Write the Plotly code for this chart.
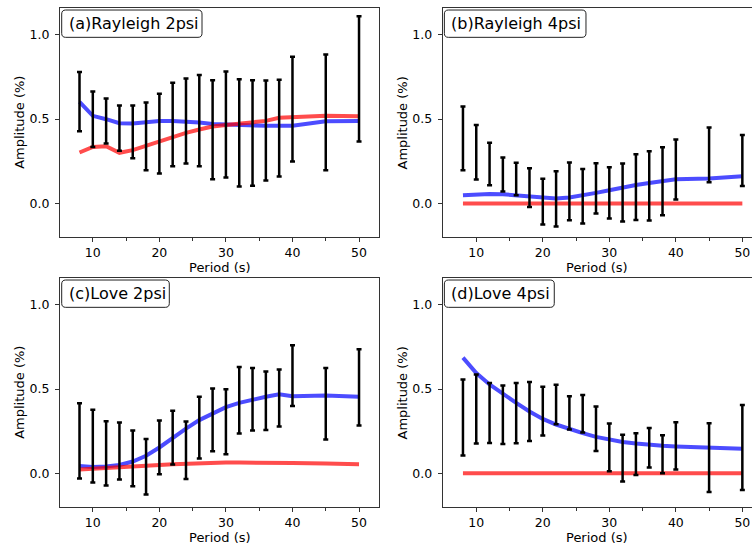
import numpy as np
import plotly.graph_objects as go

# ---------------- data ----------------
periods = [8, 10, 12, 14, 16, 18, 20, 22, 24, 26, 28, 30, 32, 34, 36, 38, 40, 45, 50]

titles = ["(a)Rayleigh 2psi", "(b)Rayleigh 4psi", "(c)Love 2psi", "(d)Love 4psi"]

# error bar upper / lower limits (observed amplitude ranges)
a_hi = [0.779, 0.663, 0.621, 0.580, 0.580, 0.598, 0.649, 0.714, 0.740, 0.761, 0.730, 0.781, 0.736, 0.730, 0.728, 0.732, 0.868, 0.882, 1.108]
a_lo = [0.428, 0.335, 0.355, 0.312, 0.268, 0.197, 0.178, 0.221, 0.237, 0.221, 0.144, 0.154, 0.101, 0.105, 0.136, 0.160, 0.249, 0.197, 0.367]
b_hi = [0.574, 0.465, 0.359, 0.272, 0.241, 0.209, 0.146, 0.191, 0.243, 0.205, 0.239, 0.215, 0.237, 0.292, 0.310, 0.333, 0.379, 0.450, 0.406]
b_lo = [0.197, 0.142, 0.108, 0.071, 0.049, -0.020, -0.124, -0.136, -0.099, -0.118, -0.059, -0.089, -0.107, -0.097, -0.101, -0.069, 0.024, 0.126, 0.103]
c_hi = [0.416, 0.377, 0.310, 0.302, 0.254, 0.205, 0.314, 0.371, 0.308, 0.454, 0.503, 0.499, 0.631, 0.625, 0.604, 0.615, 0.759, 0.625, 0.736]
c_lo = [-0.030, -0.053, -0.071, -0.036, -0.075, -0.124, -0.004, 0.053, -0.032, 0.089, 0.132, 0.114, 0.237, 0.254, 0.258, 0.278, 0.400, 0.201, 0.284]
d_hi = [0.556, 0.586, 0.536, 0.521, 0.536, 0.542, 0.513, 0.525, 0.458, 0.465, 0.396, 0.296, 0.229, 0.239, 0.270, 0.227, 0.304, 0.298, 0.406]
d_lo = [0.107, 0.178, 0.181, 0.174, 0.179, 0.193, 0.225, 0.292, 0.260, 0.243, 0.134, 0.014, -0.047, -0.008, 0.036, 0.002, 0.024, -0.110, -0.097]

# blue model curves
a_blue = [0.602, 0.519, 0.499, 0.475, 0.473, 0.481, 0.489, 0.489, 0.485, 0.479, 0.471, 0.467, 0.463, 0.462, 0.460, 0.460, 0.460, 0.487, 0.489]
b_blue = [0.049, 0.055, 0.057, 0.055, 0.049, 0.039, 0.032, 0.030, 0.036, 0.047, 0.063, 0.079, 0.097, 0.110, 0.122, 0.134, 0.144, 0.148, 0.162]
c_blue = [0.045, 0.039, 0.041, 0.051, 0.071, 0.105, 0.154, 0.211, 0.266, 0.316, 0.357, 0.393, 0.418, 0.438, 0.454, 0.469, 0.458, 0.462, 0.454]
d_blue = [0.686, 0.595, 0.527, 0.469, 0.418, 0.367, 0.323, 0.290, 0.262, 0.239, 0.217, 0.199, 0.187, 0.178, 0.170, 0.164, 0.160, 0.152, 0.146]

# red model curves
a_red = [0.302, 0.335, 0.339, 0.300, 0.316, 0.343, 0.369, 0.394, 0.418, 0.438, 0.456, 0.465, 0.473, 0.481, 0.489, 0.507, 0.511, 0.519, 0.517]
b_red = [0.0] * 19
c_red = [0.024, 0.026, 0.032, 0.037, 0.043, 0.047, 0.051, 0.055, 0.059, 0.061, 0.063, 0.065, 0.065, 0.065, 0.065, 0.063, 0.063, 0.059, 0.055]
d_red = [0.002] * 19

y_ticks = [0.0, 0.5, 1.0]
x_ticks = [10, 20, 30, 40, 50]

panels = [
    (a_hi, a_lo, a_blue, a_red),
    (b_hi, b_lo, b_blue, b_red),
    (c_hi, c_lo, c_blue, c_red),
    (d_hi, d_lo, d_blue, d_red),
]

# ---------------- layout geometry ----------------
W, H = 752, 548
left_dom = [60 / W, 379 / W]
right_dom = [442.67 / W, 1.0]
top_dom = [(H - 237.33) / H, (H - 8.33) / H]
bot_dom = [(H - 507.33) / H, (H - 278.33) / H]
x_ranges = [[5.07, 53.0], [4.95, 51.45], [5.07, 53.0], [4.95, 51.45]]
doms = [(left_dom, top_dom), (right_dom, top_dom), (left_dom, bot_dom), (right_dom, bot_dom)]
box_w = [140.3, 141.6, 107.6, 109.9]

fig = go.Figure()
FONT = "DejaVu Sans"
spine = "#333333"

for i, (hi, lo, blue, red) in enumerate(panels):
    hi_a = np.array(hi)
    lo_a = np.array(lo)
    mid = (hi_a + lo_a) / 2
    err = (hi_a - lo_a) / 2
    xa = "x" if i == 0 else f"x{i+1}"
    ya = "y" if i == 0 else f"y{i+1}"
    fig.add_trace(go.Scatter(x=periods, y=blue, mode="lines", xaxis=xa, yaxis=ya,
                             line=dict(color="rgba(0,0,255,0.7)", width=4), showlegend=False))
    fig.add_trace(go.Scatter(x=periods, y=red, mode="lines", xaxis=xa, yaxis=ya,
                             line=dict(color="rgba(255,0,0,0.7)", width=4), showlegend=False))
    fig.add_trace(go.Scatter(x=periods, y=mid, mode="markers", xaxis=xa, yaxis=ya,
                             marker=dict(size=1, color="rgba(0,0,0,0)"),
                             error_y=dict(type="data", array=err, symmetric=True,
                                          color="black", thickness=2.5, width=2.5),
                             showlegend=False))

    xd, yd = doms[i]
    xkey = "xaxis" if i == 0 else f"xaxis{i+1}"
    ykey = "yaxis" if i == 0 else f"yaxis{i+1}"
    fig.layout[xkey] = dict(domain=xd, range=x_ranges[i], anchor=ya,
                            tickvals=x_ticks, ticks="outside", ticklen=4, tickwidth=1,
                            tickcolor=spine, showline=True, linecolor=spine, linewidth=1,
                            mirror=True, showgrid=False, zeroline=False,
                            minor=dict(tickvals=[15, 25, 35, 45], ticks="outside", ticklen=3,
                                       tickwidth=1, tickcolor=spine, showgrid=False),
                            tickfont=dict(family=FONT, size=12.5, color="black"))
    fig.layout[ykey] = dict(domain=yd, range=[-0.2, 1.155], anchor=xa,
                            tickvals=y_ticks, tickformat=".1f", ticks="outside", ticklen=4,
                            tickwidth=1, tickcolor=spine, showline=True, linecolor=spine,
                            linewidth=1, mirror=(i % 2 == 0), showgrid=False, zeroline=False,
                            ticklabelstandoff=3,
                            tickfont=dict(family=FONT, size=12.5, color="black"))

    # axis titles
    xdom_ref = ("x" if i == 0 else f"x{i+1}") + " domain"
    ydom_ref = ("y" if i == 0 else f"y{i+1}") + " domain"
    fig.add_annotation(text="Period (s)", xref=xdom_ref, yref=ydom_ref, x=0.5, y=0,
                       yshift=-30, xanchor="center", yanchor="middle", showarrow=False,
                       font=dict(family=FONT, size=13, color="black"))
    fig.add_annotation(text="Amplitude (%)", xref=xdom_ref, yref=ydom_ref, x=0, y=0.5,
                       xshift=-40, textangle=-90, xanchor="center", yanchor="middle",
                       showarrow=False, font=dict(family=FONT, size=13, color="black"))

    # rounded label box (pixel geometry)
    x0p = xd[0] * W + 1.7
    y0p = (1 - yd[1]) * H + 1.7
    x1p = x0p + box_w[i]
    y1p = y0p + 27.3
    r = 4.0

    def P(px, py):
        return f"{px / W:.5f},{1 - py / H:.5f}"

    path = (f"M {P(x0p + r, y0p)} L {P(x1p - r, y0p)} Q {P(x1p, y0p)} {P(x1p, y0p + r)} "
            f"L {P(x1p, y1p - r)} Q {P(x1p, y1p)} {P(x1p - r, y1p)} "
            f"L {P(x0p + r, y1p)} Q {P(x0p, y1p)} {P(x0p, y1p - r)} "
            f"L {P(x0p, y0p + r)} Q {P(x0p, y0p)} {P(x0p + r, y0p)} Z")
    fig.add_shape(type="path", path=path, xref="paper", yref="paper",
                  line=dict(color="#222222", width=1), fillcolor="white", layer="above")
    fig.add_annotation(text=titles[i], xref="paper", yref="paper",
                       x=(x0p + 5) / W, y=1 - (y0p + y1p) / 2 / H,
                       xanchor="left", yanchor="middle", showarrow=False,
                       font=dict(family=FONT, size=16, color="black"))

fig.update_layout(width=W, height=H, margin=dict(l=0, r=0, t=0, b=0),
                  paper_bgcolor="white", plot_bgcolor="white", showlegend=False)

fig.write_html("out.html", config={"displayModeBar": False},
               post_script="document.body.style.margin='0';document.body.style.overflow='hidden';")
